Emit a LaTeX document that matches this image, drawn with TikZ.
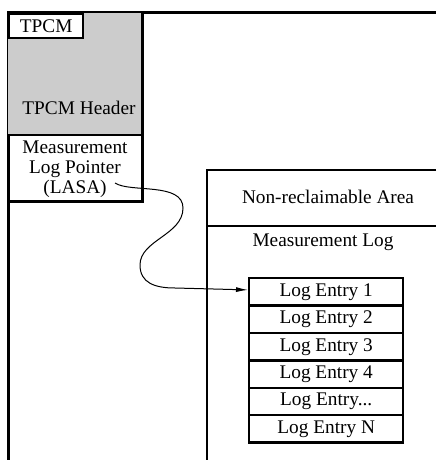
\documentclass[tikz,border=0pt]{standalone}
\usepackage{fontspec}
\setmainfont{Liberation Serif}
\usetikzlibrary{arrows.meta}

\tikzset{
  frame/.style={line width=3pt},
  areabox/.style={draw, line width=2.4pt},
  entrybox/.style={draw, line width=2.4pt, minimum width=154pt, minimum height=27.4pt,
    inner sep=0pt, anchor=north west},
}

\begin{document}
\begin{tikzpicture}[x=1pt,y=-1pt,font=\fontsize{19.3}{20}\selectfont]
\useasboundingbox (0,0) rectangle (436,460);
% memory frame
\draw[frame] (8,460) -- (8,13) -- (436,13);
% TPCM column
\fill[gray!40] (8,13) rectangle (142,135);
\node[areabox, fill=white, anchor=north west, minimum width=74pt, minimum height=24pt, inner sep=0pt] (tpcm) at (8,13) {TPCM};
\node[anchor=base] (hdr) at (79,114) {TPCM Header};
\draw[areabox] (8,135) -- (142,135);
\node[align=center, inner sep=0pt, anchor=north] (lasa) at (75,140.5) {Measurement\\ Log Pointer\\ (LASA)};
\draw[frame] (142,13) -- (142,201) -- (8,201);
% ACPI area
\draw[areabox] (436,170) -- (207,170) -- (207,460);
\draw[areabox] (207,226) -- (436,226);
\node[anchor=base] (nra) at (328,203) {Non-reclaimable Area};
\node[anchor=base] (mlog) at (323,246) {Measurement Log};
% log entries
\node[entrybox] (e1) at (248,277) {Log Entry 1};
\node[entrybox] (e2) at (248,304.4) {Log Entry 2};
\node[entrybox] (e3) at (248,331.8) {Log Entry 3};
\node[entrybox] (e4) at (248,359.2) {Log Entry 4};
\node[entrybox] (e5) at (248,386.6) {Log Entry...};
\node[entrybox] (e6) at (248,414) {Log Entry N};
% pointer
\coordinate (ptr) at (115,183);
\draw[line width=1pt, -{Latex[length=12pt,width=5pt]}] (ptr) .. controls (130,193) and (183,182) .. (183,208)
  .. controls (183,235) and (140,240) .. (140,265)
  .. controls (140,283) and (155,288) .. (175,288) -- ([yshift=2pt]e1.west);
\end{tikzpicture}
\end{document}
